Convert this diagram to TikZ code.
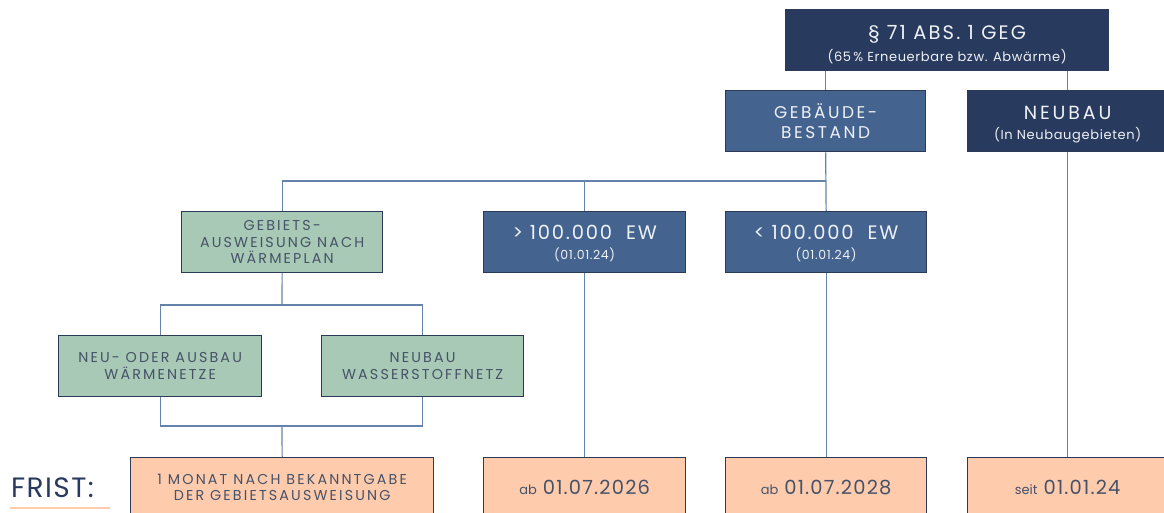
\documentclass[tikz,border=0pt]{standalone}
\usepackage{fontspec}
\setmainfont{Poppins}
\newfontfamily\wsp[LetterSpace=15]{Poppins}
\newfontfamily\wspt[LetterSpace=11]{Poppins}
\newfontfamily\wspm[LetterSpace=9]{Poppins}
\newfontfamily\wspd[LetterSpace=6]{Poppins}
\newfontfamily\wspl[LetterSpace=5]{Poppins}
\definecolor{navy}{HTML}{283A5E}
\definecolor{medblue}{HTML}{44638F}
\definecolor{green}{HTML}{A8C9B5}
\definecolor{peach}{HTML}{FFCBAD}
\definecolor{bord}{HTML}{2B3A58}
\definecolor{conn}{HTML}{6482AA}
\definecolor{dtext}{HTML}{465268}
\definecolor{ltext}{HTML}{EEF1F5}
\begin{document}
\begin{tikzpicture}[x=1pt,y=-1pt,
  box/.style={draw=bord,line width=1.3pt,inner sep=0pt,align=center,anchor=north west,minimum height=61},
  dark/.style={box,fill=navy,text=ltext},
  mid/.style={box,fill=medblue,text=ltext},
  grn/.style={box,fill=green,text=dtext,font=\wsp\fontsize{14.3}{16.5}\selectfont},
  pch/.style={box,fill=peach,text=dtext,minimum height=59},
  conn/.style={draw=conn,line width=1.2pt}]
\useasboundingbox (0,0) rectangle (1164,513);
\begin{scope}
\clip (0,0) rectangle (1164,513);
\node[dark,minimum width=323,font=\wspt\fontsize{19.5}{20}\selectfont] (top) at (785,9) {\rule{0pt}{23pt}\S\ 71 ABS. 1 GEG\\[2pt]{\wspl\fontsize{13}{14}\selectfont (65\,\% Erneuerbare bzw. Abwärme)}};
\node[mid,minimum width=200,font=\wsp\fontsize{17}{20}\selectfont] (geb) at (725,90) {GEBÄUDE-\\BESTAND};
\node[dark,minimum width=200,font=\wsp\fontsize{19}{20}\selectfont] (neu) at (967,90) {\rule{0pt}{21pt}NEUBAU\\[0pt]{\wspl\fontsize{13}{14}\selectfont (In Neubaugebieten)}};
\node[grn,minimum width=201] (gebiets) at (181,211) {GEBIETS-\\AUSWEISUNG NACH\\WÄRMEPLAN};
\node[mid,minimum width=202,font=\wspm\fontsize{19.5}{20}\selectfont] (gt) at (483,211) {\rule{0pt}{17pt}>\ 100.000\ \ EW\\[0pt]{\wspl\fontsize{12.5}{14}\selectfont (01.01.24)}};
\node[mid,minimum width=201,font=\wspm\fontsize{19.5}{20}\selectfont] (lt) at (725,211) {\rule{0pt}{17pt}<\ 100.000\ \ EW\\[0pt]{\wspl\fontsize{12.5}{14}\selectfont (01.01.24)}};
\node[grn,minimum width=203] (waerme) at (58,335) {NEU- ODER AUSBAU\\WÄRMENETZE};
\node[grn,minimum width=202] (wasser) at (321,335) {NEUBAU\\WASSERSTOFFNETZ};
\node[pch,minimum width=303,font=\wsp\fontsize{14.3}{16.5}\selectfont] (f1) at (130,457) {1 MONAT NACH BEKANNTGABE\\DER GEBIETSAUSWEISUNG};
\node[pch,minimum width=202] (f2) at (483,457) {{\fontsize{13}{14}\selectfont ab}\hspace{6pt}{\wspd\fontsize{19.5}{20}\selectfont 01.07.2026}};
\node[pch,minimum width=201] (f3) at (725,457) {{\fontsize{13}{14}\selectfont ab}\hspace{6pt}{\wspd\fontsize{19.5}{20}\selectfont 01.07.2028}};
\node[pch,minimum width=200] (f4) at (967,457) {{\fontsize{13}{14}\selectfont seit}\hspace{6pt}{\wspd\fontsize{19.5}{20}\selectfont 01.01.24}};
\end{scope}
\node[anchor=west,inner sep=0pt,text=navy] (frist) at (11,488) {\wspl\fontsize{28}{30}\selectfont FRIST:};
\draw[peach,line width=2.5pt] (10,508) -- (110,508);
% connectors
\coordinate (bar) at (826,181);
\coordinate (sub) at (282,305);
\coordinate (join) at (282,426);
\draw[conn] (geb.north) -- (geb.north |- top.south);
\draw[conn] (neu.north) -- (neu.north |- top.south);
\draw[conn] (geb.south) -- (lt.north);
\draw[conn] (gebiets.north) |- (bar);
\draw[conn] (gt.north) -- (gt.north |- bar);
\draw[conn] (gebiets.south) -- (sub);
\draw[conn] (waerme.north) |- (sub) -| (wasser.north);
\draw[conn] (waerme.south) |- (join) -| (wasser.south);
\draw[conn] (join) -- (f1.north);
\draw[conn] (gt.south) -- (f2.north);
\draw[conn] (lt.south) -- (f3.north);
\draw[conn] (neu.south) -- (f4.north);
\end{tikzpicture}
\end{document}
